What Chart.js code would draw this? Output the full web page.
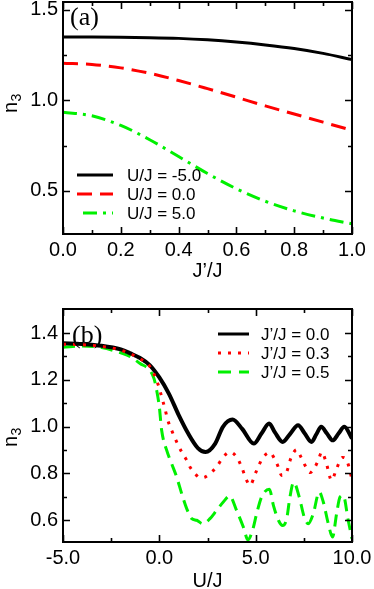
<!DOCTYPE html>
<html>
<head>
<meta charset="utf-8">
<script src="https://cdn.jsdelivr.net/npm/chart.js@4.4.0/dist/chart.umd.min.js"></script>
<style>
  body { margin: 0; background: #fff; }
  .panel { position: absolute; left: 0; width: 374px; }
  #boxA { top: 0; height: 290px; }
  #boxB { top: 290px; height: 299px; }
</style>
</head>
<body>
<div class="panel" id="boxA"><canvas id="chartA" width="374" height="290"></canvas></div>
<div class="panel" id="boxB"><canvas id="chartB" width="374" height="299"></canvas></div>
<script>
// ---- panel (a): n3 against J'/J ----
const jRatio = [0, 0.1, 0.2, 0.3, 0.4, 0.5, 0.6, 0.7, 0.8, 0.9, 1.0];
const nUm5 = [1.350, 1.350, 1.349, 1.347, 1.343, 1.335, 1.323, 1.307, 1.287, 1.260, 1.226];
const nU0 = [1.205, 1.199, 1.180, 1.150, 1.110, 1.065, 1.018, 0.970, 0.925, 0.880, 0.835];
const nU5 = [0.935, 0.915, 0.862, 0.783, 0.690, 0.596, 0.512, 0.443, 0.390, 0.350, 0.318];

const xMajorA = [0, 0.2, 0.4, 0.6, 0.8, 1.0];
const xMinorA = [0.1, 0.3, 0.5, 0.7, 0.9];
const yMajorA = [0.5, 1.0, 1.5];
const yMinorA = [0.75, 1.25];

// ---- panel (b): n3 against U/J ----
const uBlack = [-5, -4, -3, -2, -1.5, -1, -0.5, 0, 0.5, 1, 1.5, 2, 2.4, 2.9, 3.3, 3.8, 4.3, 4.9, 5.3, 5.7, 6.0, 6.4, 6.8, 7.2, 7.55, 7.9, 8.15, 8.4, 8.7, 9.0, 9.3, 9.6, 10];
const nJ0 = [1.356, 1.353, 1.346, 1.330, 1.313, 1.293, 1.263, 1.21, 1.14, 1.05, 0.97, 0.908, 0.891, 0.927, 0.999, 1.030, 0.990, 0.927, 0.97, 1.013, 0.975, 0.934, 0.97, 1.006, 0.97, 0.934, 0.967, 0.999, 0.97, 0.941, 0.97, 0.999, 0.949];

const uRed = [-5, -4, -3, -2, -1, -0.5, -0.05, 0.12, 0.29, 0.43, 0.64, 0.9, 1.16, 1.42, 1.59, 1.85, 2.11, 2.37, 2.63, 2.97, 3.32, 3.67, 4.01, 4.27, 4.53, 4.7, 5.02, 5.19, 5.4, 5.74, 5.97, 6.14, 6.35, 6.61, 6.82, 7.13, 7.35, 7.56, 7.82, 8.08, 8.25, 8.43, 8.65, 8.94, 9.2, 9.5, 9.7, 10];
const nJ03 = [1.352, 1.350, 1.343, 1.327, 1.29, 1.258, 1.177, 1.127, 1.077, 1.030, 0.984, 0.934, 0.891, 0.856, 0.827, 0.799, 0.781, 0.784, 0.799, 0.827, 0.870, 0.891, 0.870, 0.827, 0.77, 0.749, 0.806, 0.839, 0.870, 0.889, 0.863, 0.834, 0.791, 0.806, 0.863, 0.901, 0.870, 0.834, 0.803, 0.827, 0.856, 0.891, 0.849, 0.77, 0.820, 0.868, 0.86, 0.775];

const uGreen = [-5, -4, -3, -2, -1.5, -1, -0.5, -0.28, -0.14, 0, 0.12, 0.38, 0.64, 0.9, 1.16, 1.42, 1.68, 1.94, 2.25, 2.63, 2.97, 3.32, 3.65, 4.01, 4.36, 4.6, 4.85, 5.05, 5.31, 5.71, 5.92, 6.18, 6.4, 6.61, 6.78, 6.97, 7.26, 7.52, 7.73, 7.99, 8.3, 8.51, 8.77, 8.99, 9.2, 9.38, 9.55, 9.8, 10];
const nJ05 = [1.339, 1.345, 1.338, 1.315, 1.299, 1.27, 1.241, 1.206, 1.156, 1.084, 0.984, 0.899, 0.841, 0.784, 0.713, 0.649, 0.606, 0.599, 0.584, 0.606, 0.641, 0.677, 0.703, 0.641, 0.570, 0.515, 0.56, 0.627, 0.699, 0.732, 0.663, 0.599, 0.577, 0.606, 0.699, 0.762, 0.699, 0.613, 0.584, 0.627, 0.72, 0.677, 0.584, 0.527, 0.627, 0.699, 0.705, 0.60, 0.52];

const xMajorB = [-5, 0, 5, 10];
const xMinorB = [-2.5, 2.5, 7.5];
const yMajorB = [0.6, 0.8, 1.0, 1.2, 1.4];
const yMinorB = [0.7, 0.9, 1.1, 1.3];

const GREEN = '#00f000';
const SANS = '"Liberation Sans", Arial, sans-serif';

function pts(xs, ys) {
  return xs.map((x, i) => ({ x: x, y: ys[i] }));
}

// box, inward ticks, panel tag, axis titles and legend
const decor = {
  id: 'decor',
  afterDatasetsDraw(chart, args, o) {
    const ctx = chart.ctx;
    const a = chart.chartArea;
    const sx = chart.scales.x, sy = chart.scales.y;
    ctx.save();
    ctx.strokeStyle = '#000';
    ctx.lineWidth = 2;
    ctx.strokeRect(a.left, a.top, a.right - a.left, a.bottom - a.top);

    ctx.lineWidth = 1.6;
    const xt = (vals, len) => vals.forEach(v => {
      const px = Math.round(sx.getPixelForValue(v)) + 0.5;
      ctx.beginPath();
      ctx.moveTo(px, a.bottom); ctx.lineTo(px, a.bottom - len);
      ctx.moveTo(px, a.top); ctx.lineTo(px, a.top + len);
      ctx.stroke();
    });
    const yt = (vals, len) => vals.forEach(v => {
      const py = Math.round(sy.getPixelForValue(v)) + 0.5;
      ctx.beginPath();
      ctx.moveTo(a.left, py); ctx.lineTo(a.left + len, py);
      ctx.moveTo(a.right, py); ctx.lineTo(a.right - len, py);
      ctx.stroke();
    });
    xt(o.xMajor, 7); xt(o.xMinor, 4);
    yt(o.yMajor, 7); yt(o.yMinor, 4);

    ctx.fillStyle = '#000';
    // panel tag
    ctx.font = '26px "Liberation Serif", "Times New Roman", serif';
    ctx.textAlign = 'left';
    ctx.textBaseline = 'alphabetic';
    ctx.fillText(o.tag, o.tagPos[0], o.tagPos[1]);

    // x title
    ctx.font = '20px ' + SANS;
    ctx.textAlign = 'center';
    ctx.fillText(o.xTitle, (a.left + a.right) / 2, o.xTitleY);

    // y title n_3
    ctx.save();
    ctx.translate(o.yTitlePos[0], o.yTitlePos[1]);
    ctx.rotate(-Math.PI / 2);
    ctx.textAlign = 'left';
    ctx.font = '20px ' + SANS;
    ctx.fillText('n', 0, 0);
    const w = ctx.measureText('n').width;
    ctx.font = '14px ' + SANS;
    ctx.fillText('3', w + 0.5, 4);
    ctx.restore();

    // legend
    const L = o.legend;
    chart.data.datasets.forEach((ds, i) => {
      const y = L.y0 + i * L.dy;
      ctx.save();
      ctx.strokeStyle = ds.borderColor;
      ctx.lineWidth = 3;
      ctx.setLineDash(ds.legendDash || ds.borderDash || []);
      ctx.lineDashOffset = ds.legendDashOffset || 0;
      ctx.beginPath();
      ctx.moveTo(L.x0, y); ctx.lineTo(L.x1, y);
      ctx.stroke();
      ctx.restore();
      ctx.font = '17px ' + SANS;
      ctx.textAlign = 'left';
      ctx.textBaseline = 'alphabetic';
      ctx.fillStyle = '#000';
      ctx.fillText(ds.label, L.tx, y + 6);
    });
    ctx.restore();
  }
};

function axisX(min, max, major, height) {
  return {
    type: 'linear', min: min, max: max,
    grid: { display: false, drawTicks: false },
    border: { display: false },
    ticks: {
      font: { size: 20, family: SANS }, color: '#000', padding: 4,
      maxRotation: 0, autoSkip: false,
      callback: v => v.toFixed(1)
    },
    afterBuildTicks: s => { s.ticks = major.map(v => ({ value: v })); },
    afterFit: s => { s.height = height; s.paddingLeft = 0; s.paddingRight = 0; }
  };
}

function axisY(min, max, major) {
  return {
    type: 'linear', min: min, max: max,
    grid: { display: false, drawTicks: false },
    border: { display: false },
    ticks: {
      font: { size: 20, family: SANS }, color: '#000', padding: 5,
      autoSkip: false,
      callback: v => v.toFixed(1)
    },
    afterBuildTicks: s => { s.ticks = major.map(v => ({ value: v })); },
    afterFit: s => { s.width = 63; s.paddingTop = 0; s.paddingBottom = 0; }
  };
}

const lineBase = { pointRadius: 0, fill: false, cubicInterpolationMode: 'monotone', borderCapStyle: 'butt' };

new Chart(document.getElementById('chartA'), {
  type: 'line',
  data: {
    datasets: [
      Object.assign({ label: 'U/J = -5.0', data: pts(jRatio, nUm5), borderColor: '#000', borderWidth: 3 }, lineBase),
      Object.assign({ label: 'U/J = 0.0', data: pts(jRatio, nU0), borderColor: '#ff0000', borderWidth: 3, borderDash: [15, 8] }, lineBase),
      Object.assign({ label: 'U/J = 5.0', data: pts(jRatio, nU5), borderColor: GREEN, borderWidth: 3, borderDash: [14, 6, 3, 6], legendDashOffset: 23 }, lineBase)
    ]
  },
  options: {
    responsive: false,
    animation: false,
    layout: { padding: { top: 2, right: 22, left: 0, bottom: 0 } },
    scales: {
      x: axisX(0, 1, xMajorA, 56),
      y: axisY(0.262, 1.544, yMajorA)
    },
    plugins: {
      legend: { display: false },
      tooltip: { enabled: false },
      decor: {
        xMajor: xMajorA, xMinor: xMinorA, yMajor: yMajorA, yMinor: yMinorA,
        tag: '(a)', tagPos: [70, 25],
        xTitle: 'J\u2019/J', xTitleY: 277,
        yTitlePos: [17, 113],
        legend: { x0: 77, x1: 113, tx: 127, y0: 175, dy: 19 }
      }
    }
  },
  plugins: [decor]
});

new Chart(document.getElementById('chartB'), {
  type: 'line',
  data: {
    datasets: [
      Object.assign({ label: 'J\u2019/J = 0.0', data: pts(uBlack, nJ0), borderColor: '#000', borderWidth: 4, order: 1 }, lineBase),
      Object.assign({ label: 'J\u2019/J = 0.3', data: pts(uRed, nJ03), borderColor: '#ff0000', borderWidth: 3, borderDash: [3, 7], order: 0 }, lineBase),
      Object.assign({ label: 'J\u2019/J = 0.5', data: pts(uGreen, nJ05), borderColor: GREEN, borderWidth: 3, borderDash: [12, 7], legendDash: [13, 8], order: 2 }, lineBase)
    ]
  },
  options: {
    responsive: false,
    animation: false,
    layout: { padding: { top: 19, right: 22, left: 0, bottom: 0 } },
    scales: {
      x: axisX(-5, 10, xMajorB, 47),
      y: axisY(0.506, 1.503, yMajorB)
    },
    plugins: {
      legend: { display: false },
      tooltip: { enabled: false },
      decor: {
        xMajor: xMajorB, xMinor: xMinorB, yMajor: yMajorB, yMinor: yMinorB,
        tag: '(b)', tagPos: [72, 53],
        xTitle: 'U/J', xTitleY: 297,
        yTitlePos: [17, 157],
        legend: { x0: 218, x1: 249, tx: 261, y0: 44, dy: 19 }
      }
    }
  },
  plugins: [decor]
});
</script>
</body>
</html>
